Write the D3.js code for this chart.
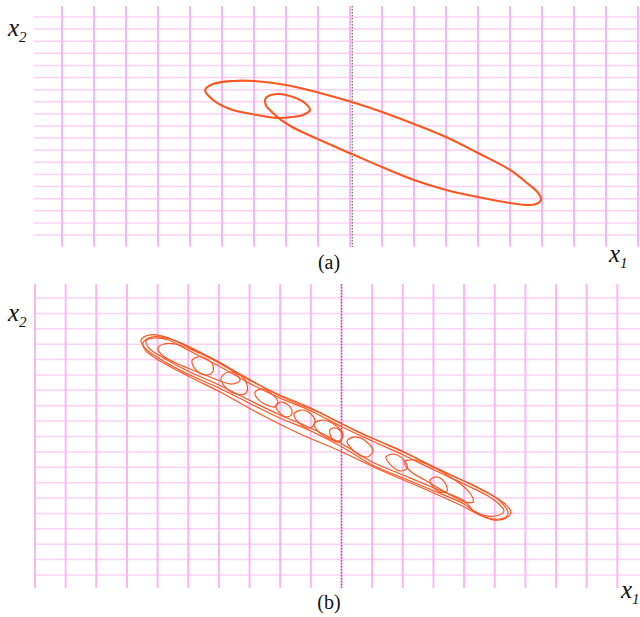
<!DOCTYPE html>
<html>
<head>
<meta charset="utf-8">
<script src="https://cdn.jsdelivr.net/npm/d3@7"></script>
<style>
  body { margin: 0; background: #fff; }
  svg { display: block; }
  .lbl { font-family: "Liberation Serif"; fill: #111; }
</style>
</head>
<body>
<svg id="chart" width="640" height="617"></svg>
<script>
// grid positions (cell units, 0 = dotted axis)
const colsA = d3.range(-9, 10);
const rowsA = d3.range(-9, 10);
const colsB = d3.range(-10, 10);
const rowsB = d3.range(-9, 10);

// panel (a): one closed orbit (big loop + small loop), [x1, x2] in cell units
const orbitA = [
  [5.97,-6.11],[5.88,-5.53],[5.53,-4.71],[5.0,-3.63],[4.0,-2.23],[3.0,-0.91],[2.0,0.17],
  [1.0,1.16],[0.06,1.98],[-0.94,2.73],[-2.0,3.39],[-3.0,3.72],[-3.66,3.72],[-4.28,3.47],
  [-4.53,2.97],[-4.28,2.15],[-3.75,1.40],[-2.91,0.91],[-2.28,0.66],[-1.81,0.74],[-1.47,0.91],
  [-1.25,1.32],[-1.41,1.90],[-1.78,2.39],[-2.28,2.64],[-2.63,2.31],[-2.63,1.73],[-2.44,1.16],
  [-2.16,0.50],[-1.81,-0.08],[-0.94,-1.16],[0.06,-2.31],[1.0,-3.39],[2.0,-4.46],[3.0,-5.28],
  [4.0,-5.86],[5.0,-6.36],[5.47,-6.52],[5.81,-6.44]
];

// panel (b): loops of the chaotic orbit
const outer1 = [
  [-6.54,6.27],[-6.25,6.60],[-5.76,6.47],[-5.01,5.82],[-4.00,4.78],[-3.02,3.67],[-2.01,2.70],
  [-1.00,1.85],[0.02,0.81],[1.00,-0.10],[2.01,-1.01],[3.02,-1.98],[4.00,-2.89],[4.85,-3.74],
  [5.34,-4.39],[5.53,-4.91],[5.37,-5.30],[4.98,-5.43],[4.45,-5.04],[4.00,-4.39],[3.02,-3.54],
  [2.01,-2.70],[1.00,-1.85],[0.02,-0.68],[-1.00,0.36],[-2.01,1.20],[-3.02,2.18],[-4.00,3.15],
  [-5.01,4.06],[-5.92,5.04],[-6.41,5.75]
];
const outer2 = [
  [-6.38,6.21],[-6.09,6.40],[-5.66,6.27],[-5.01,5.62],[-4.00,4.58],[-3.02,3.48],[-2.01,2.50],
  [-1.00,1.66],[0.02,0.62],[1.00,-0.29],[2.01,-1.20],[3.02,-2.18],[4.00,-3.09],[4.78,-3.87],
  [5.17,-4.45],[5.30,-4.84],[5.14,-5.10],[4.78,-5.17],[4.32,-4.84],[4.00,-4.19],[3.02,-3.35],
  [2.01,-2.50],[1.00,-1.66],[0.02,-0.49],[-1.00,0.55],[-2.01,1.40],[-3.02,2.37],[-4.00,3.35],
  [-5.01,4.26],[-5.86,5.17],[-6.28,5.75]
];
const outer3 = [
  [-6.48,6.08],[-6.18,6.47],[-5.60,6.34],[-4.62,5.49],[-3.31,4.06],[-2.01,2.63],[-0.70,1.53],
  [0.60,0.23],[1.91,-0.88],[3.21,-2.18],[4.52,-3.41],[5.17,-4.19],[5.43,-5.04],[5.17,-5.36],
  [4.68,-5.23],[3.87,-4.45],[2.56,-3.28],[1.26,-2.18],[-0.05,-0.94],[-1.35,0.16],[-2.66,1.46],
  [-3.96,2.89],[-4.94,3.87],[-5.92,4.91],[-6.38,5.56]
];
const innerLong = [
  [-5.99,5.75],[-5.79,6.01],[-5.43,6.01],[-4.72,5.49],[-4.06,4.91],[-3.54,4.26],[-3.31,3.67],
  [-3.57,3.41],[-4.13,3.74],[-4.78,4.26],[-5.40,4.78],[-5.82,5.23]
];
const innerRight = [
  [2.04,-1.66],[2.40,-1.53],[3.05,-2.05],[3.70,-2.83],[4.19,-3.67],[4.29,-4.26],[4.03,-4.26],
  [3.38,-3.61],[2.72,-2.83],[2.24,-2.24]
];
const smallLoops = [
  [[-4.88,4.91],[-4.68,5.17],[-4.39,5.04],[-4.19,4.58],[-4.23,4.13],[-4.45,4.00],[-4.75,4.32]],
  [[-3.93,3.80],[-3.70,4.19],[-3.31,4.00],[-3.08,3.35],[-3.12,2.83],[-3.44,2.76],[-3.80,3.22]],
  [[-2.82,2.89],[-2.59,3.09],[-2.27,2.76],[-2.07,2.24],[-2.17,1.92],[-2.50,2.11],[-2.76,2.50]],
  [[-2.14,2.05],[-1.94,2.24],[-1.68,1.92],[-1.62,1.46],[-1.78,1.27],[-2.04,1.59]],
  [[-1.55,1.46],[-1.32,1.72],[-1.00,1.46],[-0.86,0.94],[-1.03,0.55],[-1.39,0.88]],
  [[-0.90,0.81],[-0.64,1.07],[-0.21,0.75],[0.05,0.16],[-0.08,-0.29],[-0.51,-0.03],[-0.80,0.42]],
  [[-0.38,0.42],[-0.18,0.55],[0.02,0.16],[-0.05,-0.36],[-0.28,-0.23]],
  [[0.18,-0.29],[0.47,-0.03],[0.86,-0.42],[1.03,-0.94],[0.83,-1.33],[0.44,-1.01]],
  [[1.45,-1.33],[1.71,-1.14],[2.04,-1.53],[2.14,-2.05],[1.91,-2.24],[1.58,-1.79]],
  [[2.89,-2.83],[3.12,-2.63],[3.38,-3.02],[3.44,-3.54],[3.21,-3.61],[2.99,-3.28]]
];
const loopsB = [outer1, outer2, outer3, innerLong, innerRight, ...smallLoops];

const svg = d3.select("#chart");
const vColor = "#f8b6f4";
const hColor = "#fbd2f6";
const orbitColor = "#ff561f";

function drawPanel(p) {
  const g = svg.append("g");
  const x = d3.scaleLinear().domain(p.xDomain).range(p.xRange);
  const y = d3.scaleLinear().domain([-9, 9]).range(p.yRange);

  // horizontal grid
  g.selectAll("line.h").data(p.rows).enter().append("line")
    .attr("x1", p.hStart).attr("x2", 640)
    .attr("y1", d => y(d)).attr("y2", d => y(d))
    .attr("stroke", hColor).attr("stroke-width", 1.5);

  // vertical grid
  g.selectAll("line.v").data(p.cols).enter().append("line")
    .attr("x1", d => x(d)).attr("x2", d => x(d))
    .attr("y1", p.vTop).attr("y2", p.vBottom)
    .attr("stroke", vColor).attr("stroke-width", 2);

  // dotted axis
  g.append("line")
    .attr("x1", x(p.axisAt)).attr("x2", x(p.axisAt))
    .attr("y1", p.vTop).attr("y2", p.vBottom)
    .attr("stroke", "#6e6e6e").attr("stroke-width", 1.3)
    .attr("stroke-dasharray", "1.5,1.5");

  const line = d3.line()
    .x(d => x(d[0])).y(d => y(d[1]))
    .curve(d3.curveCatmullRomClosed.alpha(0.5));

  g.selectAll("path.orbit").data(p.loops).enter().append("path")
    .attr("d", line)
    .attr("fill", "none")
    .attr("stroke", orbitColor)
    .attr("stroke-width", p.strokeW)
    .attr("stroke-linejoin", "round");

  // labels
  const lx2 = g.append("text").attr("class", "lbl")
    .attr("x", 8).attr("y", p.x2Base)
    .attr("font-style", "italic").attr("font-size", 25);
  lx2.append("tspan").text("x");
  lx2.append("tspan").attr("dy", 6).attr("font-size", 15).text("2");

  const lx1 = g.append("text").attr("class", "lbl")
    .attr("x", p.x1X).attr("y", p.x1Base)
    .attr("font-style", "italic").attr("font-size", 25);
  lx1.append("tspan").text("x");
  lx1.append("tspan").attr("dy", 6).attr("font-size", 15).text("1");

  g.append("text").attr("class", "lbl")
    .attr("x", 329).attr("y", p.capBase)
    .attr("text-anchor", "middle").attr("font-size", 20)
    .text(p.caption);
}

drawPanel({
  xDomain: [-9, 9], xRange: [62, 638], yRange: [235, 17],
  cols: colsA, rows: rowsA, hStart: 34, vTop: 6, vBottom: 247,
  axisAt: 0.07, loops: [orbitA], strokeW: 2.1,
  x2Base: 36, x1X: 609, x1Base: 262, capBase: 269, caption: "(a)"
});

drawPanel({
  xDomain: [-10, 9], xRange: [35, 617.35], yRange: [575, 298],
  cols: colsB, rows: rowsB, hStart: 35, vTop: 284, vBottom: 588,
  axisAt: 0, loops: loopsB, strokeW: 1.2,
  x2Base: 321, x1X: 621, x1Base: 598, capBase: 609, caption: "(b)"
});
</script>
</body>
</html>
